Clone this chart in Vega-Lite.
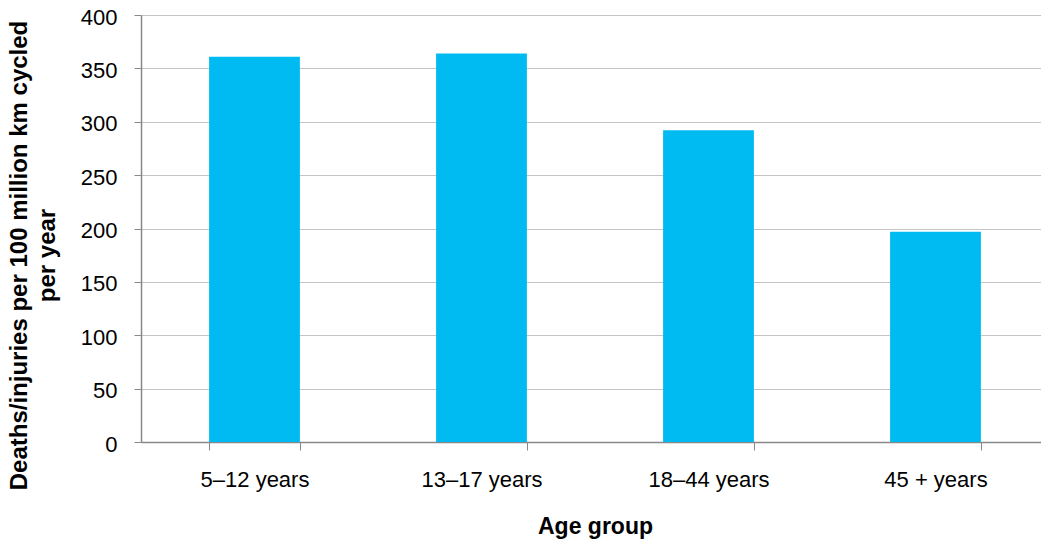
{
  "$schema": "https://vega.github.io/schema/vega-lite/v6.json",
  "autosize": "none",
  "padding": {"left": 141, "top": 15, "right": 0, "bottom": 102},
  "width": 908,
  "height": 427,
  "background": "white",
  "config": {
    "view": {"stroke": null},
    "font": "Liberation Sans"
  },
  "data": {
    "values": [
      {"age": "5–12 years", "rate": 361},
      {"age": "13–17 years", "rate": 364},
      {"age": "18–44 years", "rate": 292},
      {"age": "45 + years", "rate": 197}
    ]
  },
  "mark": {"type": "bar", "color": "#00BBF2"},
  "encoding": {
    "x": {
      "field": "age",
      "type": "nominal",
      "sort": null,
      "scale": {"paddingInner": 0.6, "paddingOuter": 0.3},
      "axis": {
        "title": "Age group",
        "titleFont": "Liberation Sans",
        "titleFontSize": 23,
        "titleFontWeight": "bold",
        "titleColor": "#000",
        "titlePadding": 25,
        "labelAngle": 0,
        "labelFont": "Liberation Sans",
        "labelFontSize": 22,
        "labelColor": "#000",
        "labelPadding": 19,
        "tickBand": "extent",
        "tickSize": 8,
        "tickColor": "#888",
        "domainColor": "#888",
        "domainWidth": 1.5,
        "grid": false
      }
    },
    "y": {
      "field": "rate",
      "type": "quantitative",
      "scale": {"domain": [0, 400]},
      "axis": {
        "title": ["Deaths/injuries per 100 million km cycled", "per year"],
        "titleFont": "Liberation Sans",
        "titleFontSize": 24,
        "titleFontWeight": "bold",
        "titleColor": "#000",
        "titleLineHeight": 28,
        "titlePadding": 21,
        "titleY": 240,
        "values": [0, 50, 100, 150, 200, 250, 300, 350, 400],
        "labelFont": "Liberation Sans",
        "labelFontSize": 22,
        "labelColor": "#000",
        "labelPadding": 17,
        "labelOffset": 2,
        "tickSize": 7,
        "tickColor": "#888",
        "domainColor": "#888",
        "domainWidth": 1.5,
        "grid": true,
        "gridColor": "#c4c4c4",
        "gridWidth": 1.2
      }
    }
  }
}
